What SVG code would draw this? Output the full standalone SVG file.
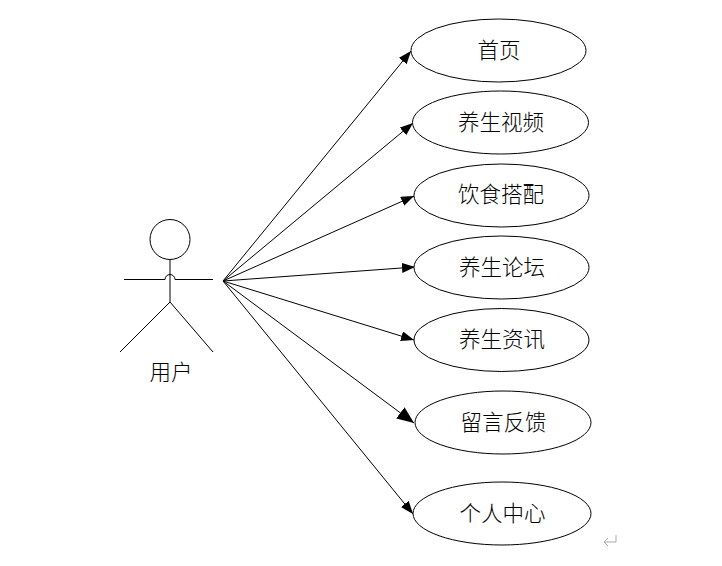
<svg xmlns="http://www.w3.org/2000/svg" width="722" height="566" viewBox="0 0 722 566">
<style>
.n{fill:#fff;stroke:#000;stroke-width:1}
.t{font-family:"Noto Sans CJK SC","Liberation Serif",serif;font-size:21.5px;font-weight:300;fill:#000;text-anchor:middle}
.c{stroke:#000;stroke-width:1;fill:none}
.a{stroke:#000;stroke-width:1;fill:none;marker-end:url(#h)}
.b{stroke:#000;stroke-width:1;fill:none;marker-end:url(#H)}
</style>
<defs>
<marker id="h" markerUnits="userSpaceOnUse" markerWidth="14" markerHeight="12" refX="13" refY="5" orient="auto"><path d="M0 0L13 5L0 10Z" fill="#000"/></marker>
<marker id="H" markerUnits="userSpaceOnUse" markerWidth="18" markerHeight="16" refX="17" refY="7" orient="auto"><path d="M0 0L17 7L0 14Z" fill="#000"/></marker>
</defs>
<rect width="722" height="566" fill="#fff"/>
<g id="connectors">
<line class="a" x1="223" y1="281" x2="411" y2="51"/>
<line class="a" x1="223" y1="281" x2="413" y2="123"/>
<line class="a" x1="223" y1="281" x2="414" y2="196"/>
<line class="a" x1="223" y1="281" x2="415" y2="267"/>
<line class="a" x1="223" y1="281" x2="414" y2="340"/>
<line class="b" x1="223" y1="281" x2="414" y2="423"/>
<line class="a" x1="223" y1="281" x2="413" y2="514"/>
</g>
<g id="actor">
<circle class="c" cx="170" cy="239.500" r="20"/>
<path class="c" d="M170 259.500V302M124 279.500H165A5 5 0 0 1 175 279.500H213M170 302L120 352M170 302L213 352"/>
<text class="t" x="171" y="380">用户</text>
</g>
<g id="n1"><ellipse class="n" cx="498.500" cy="50.500" rx="87.500" ry="31.500"/><text class="t" x="499" y="58">首页</text></g>
<g id="n2"><ellipse class="n" cx="500.500" cy="122.500" rx="88" ry="31.500"/><text class="t" x="501" y="130">养生视频</text></g>
<g id="n3"><ellipse class="n" cx="501.500" cy="195.500" rx="87.500" ry="31.500"/><text class="t" x="501" y="202">饮食搭配</text></g>
<g id="n4"><ellipse class="n" cx="501.500" cy="267.500" rx="87.500" ry="31.500"/><text class="t" x="502" y="275">养生论坛</text></g>
<g id="n5"><ellipse class="n" cx="501.500" cy="340" rx="87.500" ry="31.500"/><text class="t" x="502" y="347">养生资讯</text></g>
<g id="n6"><ellipse class="n" cx="503" cy="422.500" rx="88" ry="31.500"/><text class="t" x="503.500" y="430">留言反馈</text></g>
<g id="n7"><ellipse class="n" cx="502" cy="513.500" rx="89" ry="31.500"/><text class="t" x="502.500" y="521">个人中心</text></g>
<path d="M616 535V542H604M608 538L604 542L608 546" fill="none" stroke="#aaa" stroke-width="1"/>
</svg>
